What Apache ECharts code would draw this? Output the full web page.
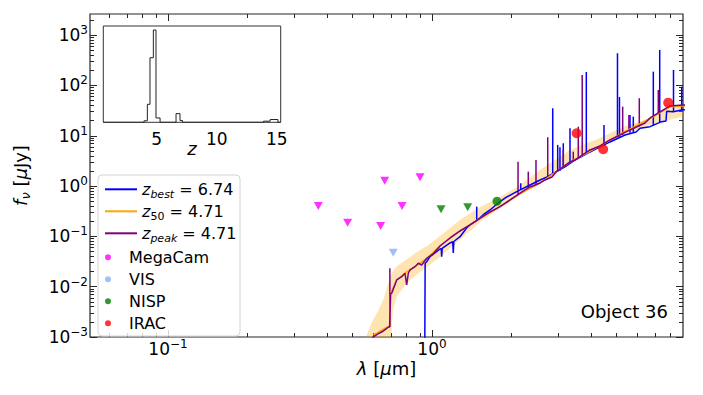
<!DOCTYPE html>
<html>
<head>
<meta charset="utf-8">
<script src="https://cdn.jsdelivr.net/npm/echarts@6/dist/echarts.min.js"></script>
<style>
html, body { margin: 0; padding: 0; background: #fff; }
#chart { width: 703px; height: 395px; }
</style>
</head>
<body>
<div id="chart"></div>
<script>
var FONT = 'DejaVu Sans';
var AX = '#262626';

// photometry: lambda [micron], flux [microJy]
var megacamLam = [0.371, 0.479, 0.639, 0.662, 0.770, 0.901];
var megacamFlux = [0.402, 0.187, 0.161, 1.28, 0.402, 1.50];
var visLam = [0.713];
var visFlux = [0.0474];
var nispLimLam = [1.082, 1.365];
var nispLimFlux = [0.346, 0.378];
var nispLam = [1.763];
var nispFlux = [0.499];
var iracLam = [3.53, 4.45, 7.85];
var iracFlux = [11.2, 5.39, 45.5];

// z_best template: continuum + emission lines
var bestLam = [0.939, 0.942, 0.955, 0.983, 1.026, 1.072, 1.084, 1.088, 1.093, 1.170, 1.198, 1.204, 1.210, 1.277, 1.353, 1.393, 1.472, 1.560, 1.658, 1.783, 1.919, 2.094, 2.351, 2.566, 2.727, 3.190, 3.482, 3.967, 4.329, 4.723, 5.384, 5.927, 6.137, 6.697, 7.414, 7.698, 7.745, 8.204, 8.828, 9.3];
var bestFlux = [0.0006, 0.0292, 0.0314, 0.0395, 0.0468, 0.0562, 0.0570, 0.0395, 0.0580, 0.0739, 0.0780, 0.0468, 0.0790, 0.0986, 0.1469, 0.1685, 0.2024, 0.2663, 0.3349, 0.4613, 0.6072, 0.7742, 1.052, 1.322, 1.517, 2.397, 3.30, 4.764, 5.99, 7.53, 10.37, 11.9, 14.10, 15.17, 19.07, 19.69, 30.6, 30.14, 32.59, 33];
var bestLineLam = [1.477, 2.168, 2.866, 2.993, 3.053, 3.143, 3.332, 3.842, 4.482, 5.042, 5.130, 5.623, 5.788, 6.892, 7.288, 8.219, 8.828];
var bestLineBase = [0.205, 0.84, 1.69, 1.93, 2.0, 2.3, 2.9, 4.5, 6.3, 9.3, 9.5, 11.5, 11.7, 16.0, 18.0, 30.0, 32.0];
var bestLineTop = [0.3895, 1.137, 35.22, 6.563, 5.9, 7.094, 14.10, 185.5, 16.39, 436.8, 59.07, 25.92, 23.99, 188.2, 507.8, 203.3, 94.6];

// z_peak template
var peakLam = [0.582, 0.598, 0.6245, 0.6466, 0.674, 0.6843, 0.691, 0.697, 0.704, 0.735, 0.768, 0.790, 0.802, 0.8133, 0.826, 0.862, 0.887, 0.914, 0.955, 1.009, 1.072, 1.170, 1.277, 1.393, 1.520, 1.658, 1.810, 1.975, 2.080, 2.250, 2.351, 2.566, 2.679, 2.848, 2.950, 3.332, 3.482, 3.967, 4.329, 4.723, 5.623, 6.411, 6.697, 7.631, 7.971, 8.93, 9.3];
var peakFlux = [0.00069, 0.0010, 0.00115, 0.00127, 0.00149, 0.00158, 0.00158, 0.0074, 0.0074, 0.0136, 0.0158, 0.0185, 0.0108, 0.0185, 0.0215, 0.025, 0.0292, 0.027, 0.0367, 0.0447, 0.0644, 0.0929, 0.128, 0.1685, 0.229, 0.3056, 0.3895, 0.5293, 0.6355, 0.8365, 0.9596, 1.152, 1.322, 1.517, 1.907, 3.014, 3.303, 5.222, 6.27, 8.25, 13.04, 17.97, 22.59, 34.11, 39.12, 40.96, 41];
var peakLineLam = [0.6925, 2.118, 2.316, 2.477, 2.744, 3.143, 3.429, 3.582, 3.707, 5.276, 5.57, 6.099, 7.198];
var peakLineBase = [0.00158, 0.66, 0.92, 1.02, 1.40, 2.35, 3.2, 3.5, 3.9, 10.4, 12.8, 15.3, 26.5];
var peakLineTop = [0.0232, 3.056, 1.933, 3.303, 9.34, 5.222, 4.83, 15.17, 161.7, 37.9, 25.9, 55.67, 81.38];

// z_50 template and its 16-84 band
var medLam = [0.60, 0.62, 0.68, 0.691, 0.697, 0.735, 0.79, 0.862, 0.955, 1.072, 1.277, 1.52, 1.81, 2.154, 2.566, 3.332, 4.329, 5.29, 6.697, 8.0, 9.3];
var medFlux = [0.0011, 0.0012, 0.0016, 0.0016, 0.0074, 0.0136, 0.0185, 0.025, 0.0367, 0.0644, 0.128, 0.229, 0.39, 0.70, 1.15, 3.0, 6.3, 11.5, 22.0, 37.5, 40];
var bandLam = [0.5623, 0.5926, 0.6245, 0.6579, 0.6813, 0.6994, 0.7117, 0.7371, 0.7765, 0.8254, 0.9006, 0.9574, 1.072, 1.277, 1.520, 1.810, 2.154, 2.566, 3.332, 4.329, 5.290, 6.697, 9.3];
var bandHigh = [0.0010, 0.00199, 0.00329, 0.00596, 0.0113, 0.0171, 0.0205, 0.0258, 0.0310, 0.0390, 0.0537, 0.0644, 0.1019, 0.2118, 0.3842, 0.6072, 1.052, 2.090, 5.222, 9.04, 14.96, 22.59, 48];
var bandLow = [0.0007, 0.00055, 0.00055, 0.00055, 0.00055, 0.0010, 0.00344, 0.00653, 0.00942, 0.0136, 0.0196, 0.0246, 0.0390, 0.0848, 0.1933, 0.3620, 0.6653, 1.152, 2.879, 5.72, 10.37, 16.39, 26];

// p(z) histogram (inset)
var zEdges = [0.55, 3.94, 4.22, 4.44, 4.72, 4.94, 5.28, 6.61, 6.94, 7.14, 13.90, 14.45, 15.10, 15.33];
var pz = [0, 0.016, 0.195, 0.70, 1.0, 0.047, 0, 0.094, 0.02, 0, 0.012, 0.03, 0];

// ticks
var xMajor = [0.1, 1];
var xMinor = [0.06, 0.07, 0.08, 0.09, 0.2, 0.3, 0.4, 0.5, 0.6, 0.7, 0.8, 0.9, 2, 3, 4, 5, 6, 7, 8];
var yMajor = [1e-3, 1e-2, 1e-1, 1, 10, 100, 1000];
var mantissas = [2, 3, 4, 5, 6, 7, 8, 9];
var zTicks = [5, 10, 15];

var X_MIN = -1.2955, X_MAX = 0.9508, Y_MIN = -3, Y_MAX = 3.42;
var lg = Math.log10;

var yMinor = [];
yMajor.forEach(function (d) {
    mantissas.forEach(function (m) {
        if (lg(m * d) < Y_MAX) yMinor.push(m * d);
    });
});

function pairs(xs, ys) {
    return xs.map(function (x, i) { return [lg(x), lg(ys[i])]; });
}
function spikes(xs, b, t) {
    return xs.map(function (x, i) { return [lg(x), lg(b[i]), lg(t[i])]; });
}
function powLabel(v) {
    var e = Math.round(v);
    var s = e < 0 ? '\u2212' + (-e) : '' + e;
    return '{b|10}{s|' + s + '}';
}
var tickRich = {
    b: { fontFamily: FONT, fontSize: 17, lineHeight: 22, color: '#000' },
    s: { fontFamily: FONT, fontSize: 12, lineHeight: 12, verticalAlign: 'top', color: '#000' }
};

function mainX(pos, vals, len) {
    return {
        type: 'value', gridIndex: 0, position: pos, min: X_MIN, max: X_MAX,
        axisLine: { show: false, onZero: false },
        splitLine: { show: false },
        axisTick: { show: true, inside: true, length: len, customValues: vals.map(lg), lineStyle: { color: AX, width: 1 } },
        axisLabel: { show: false }
    };
}
function mainY(pos, vals, len) {
    return {
        type: 'value', gridIndex: 0, position: pos, min: Y_MIN, max: Y_MAX,
        axisLine: { show: false, onZero: false },
        splitLine: { show: false },
        axisTick: { show: true, inside: true, length: len, customValues: vals.map(lg), lineStyle: { color: AX, width: 1 } },
        axisLabel: { show: false }
    };
}

var xBottom = mainX('bottom', xMajor, 7);
xBottom.axisLabel = { show: true, customValues: xMajor.map(lg), formatter: powLabel, margin: 1, rich: tickRich };
xBottom.name = '{i|\u03bb}{t| [}{i|\u03bc}{t|m]}';
xBottom.nameLocation = 'middle';
xBottom.nameGap = 20;
xBottom.nameMoveOverlap = false;
xBottom.nameTextStyle = { rich: {
    i: { fontFamily: FONT, fontStyle: 'italic', fontSize: 18, lineHeight: 22, color: '#000' },
    t: { fontFamily: FONT, fontSize: 18, lineHeight: 22, color: '#000' }
} };

var yLeft = mainY('left', yMajor, 7);
yLeft.axisLabel = { show: true, customValues: yMajor.map(lg), formatter: powLabel, margin: 2, rich: tickRich };
yLeft.name = '{i|f}{si|\u03bd}{t| [}{i|\u03bc}{t|Jy]}';
yLeft.nameLocation = 'middle';
yLeft.nameGap = 58;
yLeft.nameMoveOverlap = false;
yLeft.nameTextStyle = { rich: {
    i: { fontFamily: FONT, fontStyle: 'italic', fontSize: 18, lineHeight: 24, color: '#000' },
    si: { fontFamily: FONT, fontStyle: 'italic', fontSize: 13, lineHeight: 13, verticalAlign: 'bottom', color: '#000' },
    t: { fontFamily: FONT, fontSize: 18, lineHeight: 24, color: '#000' }
} };

var histData = [];
pz.forEach(function (p, i) {
    histData.push([zEdges[i], p]);
    histData.push([zEdges[i + 1], p]);
});

function spikeRender(color) {
    return function (params, api) {
        var p0 = api.coord([api.value(0), api.value(1)]);
        var p1 = api.coord([api.value(0), api.value(2)]);
        return {
            type: 'line',
            shape: { x1: p0[0], y1: p0[1], x2: p1[0], y2: p1[1] },
            style: { stroke: color, lineWidth: 1.5 }
        };
    };
}

function legendText(name) {
    if (name === 'zbest') return '{i|z}{si|best}{t| = 6.74}';
    if (name === 'z50') return '{i|z}{s|50}{t| = 4.71}';
    if (name === 'zpeak') return '{i|z}{si|peak}{t| = 4.71}';
    return name;
}
var legendRich = {
    i: { fontFamily: FONT, fontStyle: 'italic', fontSize: 16, lineHeight: 22, color: '#000' },
    si: { fontFamily: FONT, fontStyle: 'italic', fontSize: 11, lineHeight: 11, verticalAlign: 'bottom', color: '#000' },
    s: { fontFamily: FONT, fontSize: 11, lineHeight: 11, verticalAlign: 'bottom', color: '#000' },
    t: { fontFamily: FONT, fontSize: 16, lineHeight: 22, color: '#000' }
};

var option = {
    animation: false,
    backgroundColor: '#fff',
    grid: [
        { left: 90, top: 14, width: 593, height: 323, show: true, borderColor: AX, borderWidth: 1.2, backgroundColor: 'transparent' },
        { left: 103.3, top: 26, width: 177.4, height: 96.3, show: true, borderColor: '#333', borderWidth: 1, backgroundColor: '#fff', z: 5 }
    ],
    xAxis: [
        xBottom,
        mainX('bottom', xMinor, 4),
        mainX('top', xMajor, 7),
        mainX('top', xMinor, 4),
        {
            type: 'value', gridIndex: 1, min: 0.55, max: 15.33, position: 'bottom', z: 6,
            axisLine: { show: false, onZero: false }, splitLine: { show: false },
            axisTick: { show: false },
            axisLabel: { show: true, customValues: zTicks, margin: 8, fontFamily: FONT, fontSize: 17, color: '#000' },
            name: 'z', nameLocation: 'middle', nameGap: 17, nameMoveOverlap: false,
            nameTextStyle: { fontFamily: FONT, fontStyle: 'italic', fontSize: 18, color: '#000' }
        }
    ],
    yAxis: [
        yLeft,
        mainY('left', yMinor, 4),
        mainY('right', yMajor, 7),
        mainY('right', yMinor, 4),
        {
            type: 'value', gridIndex: 1, min: 0, max: 1.0433, z: 6,
            axisLine: { show: false, onZero: false }, splitLine: { show: false },
            axisTick: { show: false }, axisLabel: { show: false }
        }
    ],
    legend: [
        {
            orient: 'vertical', left: 105, top: 178.3, padding: 0, itemGap: 0,
            itemWidth: 32, itemHeight: 2, icon: 'rect', selectedMode: false,
            data: ['zbest', 'z50', 'zpeak'], formatter: legendText,
            textStyle: { fontFamily: FONT, fontSize: 16, lineHeight: 22, color: '#000', rich: legendRich }
        },
        {
            orient: 'vertical', left: 105, top: 246.3, padding: 0, itemGap: 0,
            itemWidth: 32, itemHeight: 6, selectedMode: false,
            icon: 'path://M10,0A10,10,0,1,1,10,20A10,10,0,1,1,10,0Z',
            data: ['MegaCam', 'VIS', 'NISP', 'IRAC'],
            textStyle: { fontFamily: FONT, fontSize: 16, lineHeight: 22, color: '#000' }
        }
    ],
    graphic: [
        {
            type: 'rect', z: 1,
            shape: { x: 98, y: 175, width: 142, height: 161, r: 4 },
            style: { fill: 'rgba(255,255,255,0.8)', stroke: '#d4d4d4', lineWidth: 1 }
        },
        {
            type: 'text', z: 10, x: 668, y: 311.7,
            style: { text: 'Object 36', fontFamily: FONT, fontSize: 18, fill: '#000', textAlign: 'right', textVerticalAlign: 'middle' }
        }
    ],
    series: [
        {
            type: 'custom', name: 'band', xAxisIndex: 0, yAxisIndex: 0, silent: true, clip: true,
            data: spikes(bandLam, bandLow, bandHigh),
            renderItem: function (params, api) {
                if (params.dataIndex !== 0) return null;
                var up = [], lo = [];
                for (var i = 0; i < bandLam.length; i++) {
                    up.push(api.coord([lg(bandLam[i]), lg(bandHigh[i])]));
                    lo.unshift(api.coord([lg(bandLam[i]), lg(bandLow[i])]));
                }
                var cs = params.coordSys;
                return {
                    type: 'polygon',
                    shape: { points: up.concat(lo) },
                    style: { fill: 'rgba(255,165,0,0.3)' },
                    clipPath: { type: 'rect', shape: { x: cs.x, y: cs.y, width: cs.width, height: cs.height } }
                };
            }
        },
        {
            type: 'line', name: 'zbest', xAxisIndex: 0, yAxisIndex: 0, color: '#0000ff',
            data: pairs(bestLam, bestFlux), symbol: 'none', lineStyle: { width: 1.5 }, clip: true
        },
        {
            type: 'custom', name: 'zbest lines', xAxisIndex: 0, yAxisIndex: 0, clip: true,
            data: spikes(bestLineLam, bestLineBase, bestLineTop), renderItem: spikeRender('#0000ff')
        },
        {
            type: 'line', name: 'z50', xAxisIndex: 0, yAxisIndex: 0, color: '#ffa500',
            data: pairs(medLam, medFlux), symbol: 'none', lineStyle: { width: 1.5 }, clip: true
        },
        {
            type: 'line', name: 'zpeak', xAxisIndex: 0, yAxisIndex: 0, color: '#800080',
            data: pairs(peakLam, peakFlux), symbol: 'none', lineStyle: { width: 1.5 }, clip: true
        },
        {
            type: 'custom', name: 'zpeak lines', xAxisIndex: 0, yAxisIndex: 0, clip: true,
            data: spikes(peakLineLam, peakLineBase, peakLineTop), renderItem: spikeRender('#800080')
        },
        {
            type: 'scatter', name: 'MegaCam', xAxisIndex: 0, yAxisIndex: 0, color: '#ff00ff',
            data: pairs(megacamLam, megacamFlux), symbol: 'triangle', symbolRotate: 180, symbolSize: [9, 8], z: 4
        },
        {
            type: 'scatter', name: 'VIS', xAxisIndex: 0, yAxisIndex: 0, color: '#8ab0f5',
            data: pairs(visLam, visFlux), symbol: 'triangle', symbolRotate: 180, symbolSize: [9, 8], z: 4
        },
        {
            type: 'scatter', name: 'NISP', xAxisIndex: 0, yAxisIndex: 0, color: '#008000',
            data: pairs(nispLam, nispFlux), symbol: 'circle', symbolSize: 9, z: 4
        },
        {
            type: 'scatter', name: 'NISP limits', xAxisIndex: 0, yAxisIndex: 0, color: '#008000',
            data: pairs(nispLimLam, nispLimFlux), symbol: 'triangle', symbolRotate: 180, symbolSize: [9, 8], z: 4
        },
        {
            type: 'scatter', name: 'IRAC', xAxisIndex: 0, yAxisIndex: 0, color: '#ff0000',
            data: pairs(iracLam, iracFlux), symbol: 'circle', symbolSize: 10, z: 4
        },
        {
            type: 'line', name: 'p(z)', xAxisIndex: 4, yAxisIndex: 4, color: '#222',
            data: histData, symbol: 'none', lineStyle: { width: 1 }, z: 7
        }
    ]
};

var chart = echarts.init(document.getElementById('chart'), null, { renderer: 'svg' });
chart.setOption(option);
</script>
</body>
</html>
